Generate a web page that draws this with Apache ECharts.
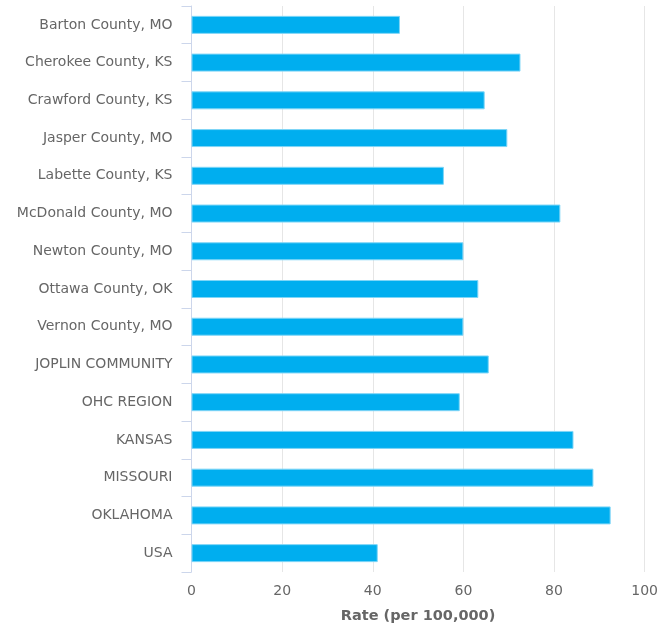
<!DOCTYPE html>
<html><head><meta charset="utf-8">
<script src="https://cdn.jsdelivr.net/npm/echarts@6/dist/echarts.min.js"></script>
<style>html,body{margin:0;padding:0;background:#fff}#c{width:661px;height:630px}</style>
</head><body><div id="c"></div>
<script>
const categories = ["Barton County, MO","Cherokee County, KS","Crawford County, KS","Jasper County, MO","Labette County, KS","McDonald County, MO","Newton County, MO","Ottawa County, OK","Vernon County, MO","JOPLIN COMMUNITY","OHC REGION","KANSAS","MISSOURI","OKLAHOMA","USA"];
const rates = [46.0,72.6,64.7,69.7,55.7,81.4,60.0,63.3,60.0,65.6,59.2,84.3,88.7,92.5,41.1];
const xTicks = [0,20,40,60,80,100];
const xTitle = "Rate (per 100,000)";

const chart = echarts.init(document.getElementById('c'));
chart.setOption({
  animation:false,
  grid:{left:191.5,right:13.5,top:6,bottom:58,containLabel:false},
  xAxis:{type:'value',min:xTicks[0],max:xTicks[xTicks.length-1],interval:20,
    name:xTitle,nameLocation:'middle',nameGap:37,
    nameTextStyle:{color:'#666',fontSize:14.5,fontWeight:'bold',fontFamily:'DejaVu Sans'},
    axisLine:{show:false},axisTick:{show:false},
    axisLabel:{color:'#666',fontSize:14,margin:12,fontFamily:'DejaVu Sans'},
    splitLine:{lineStyle:{color:'#e6e6e6',width:1}}},
  yAxis:{type:'category',data:categories,inverse:true,
    axisLine:{lineStyle:{color:'#ccd6eb'}},
    axisTick:{show:true,length:10,lineStyle:{color:'#ccd6eb'}},
    axisLabel:{color:'#666',fontSize:14,margin:19,fontFamily:'DejaVu Sans'}},
  series:[{type:'bar',data:rates,barWidth:18,
    itemStyle:{color:'#00aeef',borderColor:'#7fd6f7',borderWidth:1}}]
});
</script></body></html>
